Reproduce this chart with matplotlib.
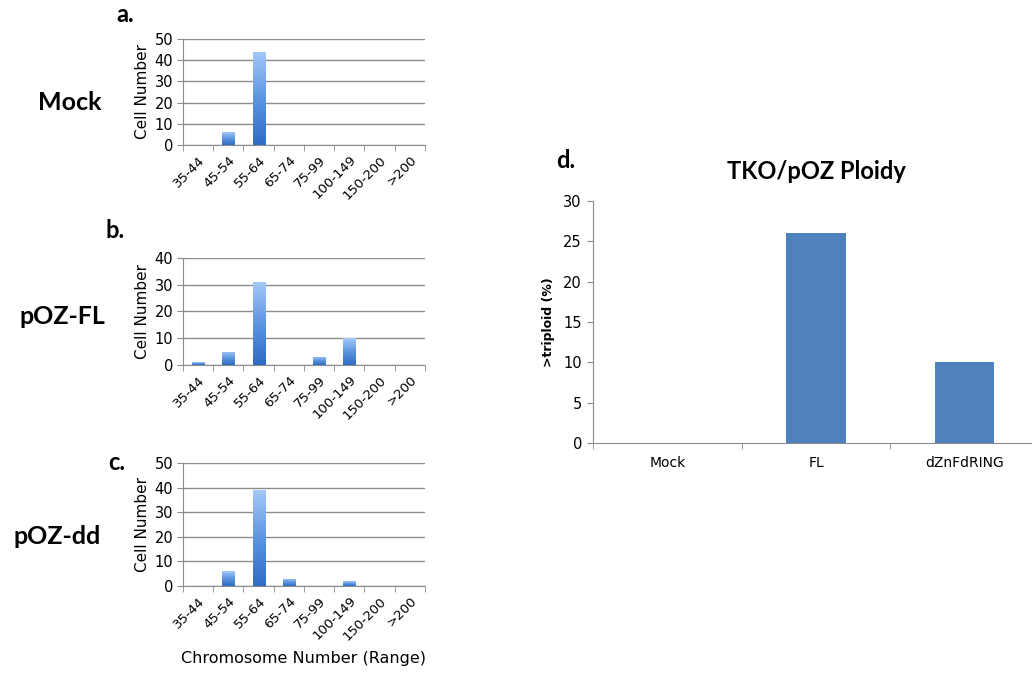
import numpy as np
from matplotlib import pyplot as plt
from matplotlib.colors import LinearSegmentedColormap

# chromosome number histograms
ranges = ['35-44', '45-54', '55-64', '65-74', '75-99', '100-149', '150-200', '>200']
mock_counts = [0, 6, 44, 0, 0, 0, 0, 0]
fl_counts = [1, 5, 31, 0, 3, 10, 0, 0]
dd_counts = [0, 6, 39, 3, 0, 2, 0, 0]

# ploidy summary
ploidy_groups = ['Mock', 'FL', 'dZnFdRING']
ploidy_pct = [0, 26, 10]

grad_cmap = LinearSegmentedColormap.from_list('excel_blue', ['#2f6cc4', '#5d95e0', '#a4c8f7'])
bold_font = ['Lato', 'DejaVu Sans']


def gradient_bars(ax, values):
    bars = ax.bar(range(len(values)), values, width=0.4, color='none', zorder=3)
    grad = np.linspace(0, 1, 100).reshape(-1, 1)
    for bar in bars:
        x0, y0 = bar.get_x(), bar.get_y()
        x1, y1 = x0 + bar.get_width(), y0 + bar.get_height()
        if y1 <= y0:
            continue
        im = ax.imshow(grad, cmap=grad_cmap, origin='lower', aspect='auto',
                       extent=[x0, x1, y0, y1], zorder=3)
        im.set_clip_path(bar)


def histogram_panel(ax, values, ymax, show_xlabel=False):
    gradient_bars(ax, values)
    ax.set_xlim(-0.5, len(values) - 0.5)
    ax.set_ylim(0, ymax)
    ax.set_yticks(range(0, ymax + 1, 10))
    ax.yaxis.grid(True, color='#8c8c8c', linewidth=1.0, zorder=0)
    ax.set_axisbelow(True)
    ax.set_xticks(np.arange(-0.5, len(values)), minor=True)
    ax.set_xticks(range(len(values)))
    ax.set_xticklabels(ranges, rotation=45, ha='right', rotation_mode='anchor', fontsize=9.5)
    ax.tick_params(axis='x', which='major', length=0, pad=6)
    ax.tick_params(axis='x', which='minor', length=4, color='#8c8c8c')
    ax.tick_params(axis='y', length=4, color='#8c8c8c', labelsize=10.5, pad=3)
    for side in ['top', 'right']:
        ax.spines[side].set_visible(False)
    for side in ['left', 'bottom']:
        ax.spines[side].set_color('#8c8c8c')
    ax.set_ylabel('Cell Number', fontsize=11, labelpad=3)
    if show_xlabel:
        ax.set_xlabel('Chromosome Number (Range)', fontsize=11.5, labelpad=6)


fig = plt.figure(figsize=(10.32, 6.74), dpi=100)

ax_a = fig.add_axes([0.1773, 0.7849, 0.2345, 0.1573])
ax_b = fig.add_axes([0.1773, 0.4585, 0.2345, 0.1588])
ax_c = fig.add_axes([0.1773, 0.1306, 0.2345, 0.1825])
ax_d = fig.add_axes([0.5746, 0.3427, 0.4322, 0.3591])

histogram_panel(ax_a, mock_counts, 50)
histogram_panel(ax_b, fl_counts, 40)
histogram_panel(ax_c, dd_counts, 50, show_xlabel=True)

# panel d
ax_d.bar(range(len(ploidy_pct)), ploidy_pct, width=0.4, color='#4f81bd', zorder=3)
ax_d.set_xlim(-0.5, len(ploidy_pct) - 0.5)
ax_d.set_ylim(0, 30)
ax_d.set_yticks(range(0, 31, 5))
ax_d.set_xticks(np.arange(-0.5, len(ploidy_pct)), minor=True)
ax_d.set_xticks(range(len(ploidy_pct)))
ax_d.set_xticklabels(ploidy_groups, fontsize=10)
ax_d.tick_params(axis='x', which='major', length=0, pad=9)
ax_d.tick_params(axis='x', which='minor', length=4, color='#8c8c8c')
ax_d.tick_params(axis='y', length=4, color='#8c8c8c', labelsize=10.5, pad=4)
for side in ['top', 'right']:
    ax_d.spines[side].set_visible(False)
for side in ['left', 'bottom']:
    ax_d.spines[side].set_color('#8c8c8c')
ax_d.set_ylabel('>triploid (%)', fontsize=9, fontweight='bold', labelpad=6)
ax_d.set_title('TKO/pOZ Ploidy', fontsize=17, fontweight='bold', family=bold_font, pad=16)


# panel letters and row names
def fig_text(x, y, s, size=17):
    fig.text(x / 1032, 1 - y / 674, s, fontsize=size, fontweight='bold',
             family=bold_font, ha='center', va='center')


fig_text(125, 14, 'a.')
fig_text(115, 230, 'b.')
fig_text(117, 463, 'c.')
fig_text(566, 160, 'd.')
fig_text(70, 103, 'Mock', 18)
fig_text(62, 317, 'pOZ-FL', 18)
fig_text(57, 537, 'pOZ-dd', 18)

plt.savefig('out.png', dpi=100)
